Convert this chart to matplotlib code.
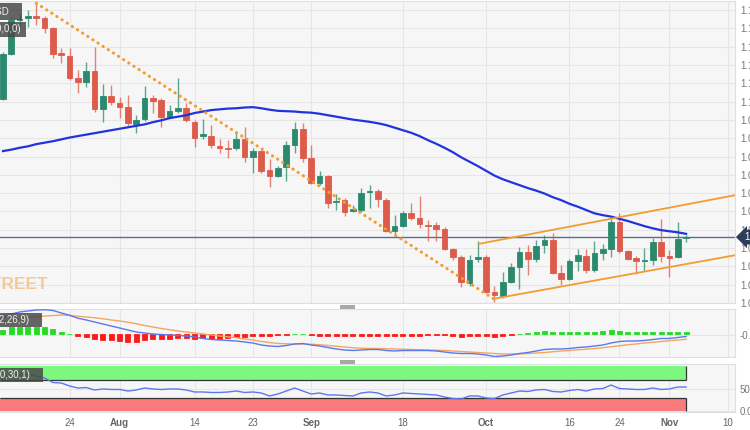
import matplotlib
matplotlib.use("Agg")
import matplotlib.pyplot as plt
import matplotlib.transforms as mtransforms
from matplotlib.patches import Rectangle

# ---- data (daily candles, 12 Jul - 3 Nov) ----
opens = [1.1007, 1.1130, 1.1223, 1.1228, 1.1234, 1.1228, 1.1201, 1.1133, 1.1124, 1.1064,
         1.1053, 1.1083, 1.0979, 1.1015, 1.0996, 1.0985, 1.0938, 1.0952, 1.1010, 1.1004,
         1.0958, 1.0974, 1.0982, 1.0944, 1.0906, 1.0906, 1.0878, 1.0873, 1.0873, 1.0897,
         1.0848, 1.0865, 1.0813, 1.0796, 1.0821, 1.0881, 1.0925, 1.0846, 1.0777, 1.0796,
         1.0725, 1.0731, 1.0701, 1.0704, 1.0753, 1.0756, 1.0731, 1.0646, 1.0660, 1.0695,
         1.0682, 1.0663, 1.0663, 1.0652, 1.0597, 1.0575, 1.0504, 1.0570, 1.0575, 1.0480,
         1.0468, 1.0507, 1.0548, 1.0589, 1.0570, 1.0608, 1.0622, 1.0531, 1.0515, 1.0564,
         1.0578, 1.0540, 1.0586, 1.0597, 1.0671, 1.0592, 1.0572, 1.0566, 1.0567, 1.0616,
         1.0578, 1.0575, 1.0627]
highs = [1.1135, 1.1231, 1.1242, 1.1250, 1.1269, 1.1234, 1.1204, 1.1146, 1.1146, 1.1086,
         1.1108, 1.1149, 1.1048, 1.1045, 1.1012, 1.1018, 1.0963, 1.1042, 1.1018, 1.1010,
         1.0990, 1.1064, 1.0996, 1.0949, 1.0952, 1.0936, 1.0897, 1.0895, 1.0917, 1.0930,
         1.0873, 1.0867, 1.0843, 1.0824, 1.0892, 1.0944, 1.0941, 1.0881, 1.0810, 1.0799,
         1.0747, 1.0736, 1.0717, 1.0764, 1.0772, 1.0761, 1.0736, 1.0690, 1.0701, 1.0723,
         1.0742, 1.0676, 1.0671, 1.0657, 1.0600, 1.0581, 1.0581, 1.0619, 1.0581, 1.0496,
         1.0534, 1.0559, 1.0602, 1.0608, 1.0622, 1.0635, 1.0641, 1.0553, 1.0570, 1.0597,
         1.0597, 1.0619, 1.0611, 1.0679, 1.0695, 1.0594, 1.0578, 1.0600, 1.0627, 1.0679,
         1.0594, 1.0671, 1.0635]
lows = [1.1004, 1.1127, 1.1204, 1.1204, 1.1209, 1.1187, 1.1119, 1.1105, 1.1059, 1.1023,
        1.1040, 1.0971, 1.0944, 1.0990, 1.0955, 1.0930, 1.0914, 1.0947, 1.0969, 1.0930,
        1.0955, 1.0969, 1.0944, 1.0875, 1.0897, 1.0873, 1.0859, 1.0846, 1.0867, 1.0835,
        1.0805, 1.0805, 1.0766, 1.0794, 1.0783, 1.0859, 1.0835, 1.0775, 1.0772, 1.0709,
        1.0704, 1.0687, 1.0698, 1.0698, 1.0709, 1.0712, 1.0643, 1.0638, 1.0657, 1.0676,
        1.0654, 1.0619, 1.0619, 1.0594, 1.0567, 1.0493, 1.0496, 1.0561, 1.0477, 1.0452,
        1.0463, 1.0504, 1.0488, 1.0526, 1.0561, 1.0586, 1.0528, 1.0499, 1.0512, 1.0537,
        1.0531, 1.0534, 1.0567, 1.0575, 1.0586, 1.0567, 1.0528, 1.0537, 1.0553, 1.0561,
        1.0520, 1.0572, 1.0616]
closes = [1.1130, 1.1223, 1.1225, 1.1234, 1.1228, 1.1201, 1.1130, 1.1127, 1.1064, 1.1053,
          1.1083, 1.0979, 1.1015, 1.0999, 1.0985, 1.0941, 1.0949, 1.1010, 1.1001, 1.0958,
          1.0974, 1.0982, 1.0949, 1.0900, 1.0911, 1.0881, 1.0873, 1.0871, 1.0897, 1.0848,
          1.0865, 1.0810, 1.0796, 1.0818, 1.0881, 1.0925, 1.0846, 1.0777, 1.0796, 1.0723,
          1.0728, 1.0698, 1.0706, 1.0750, 1.0756, 1.0734, 1.0646, 1.0660, 1.0695, 1.0682,
          1.0665, 1.0660, 1.0652, 1.0597, 1.0575, 1.0507, 1.0567, 1.0575, 1.0480, 1.0471,
          1.0507, 1.0548, 1.0589, 1.0570, 1.0605, 1.0622, 1.0531, 1.0515, 1.0564, 1.0581,
          1.0540, 1.0586, 1.0597, 1.0671, 1.0592, 1.0570, 1.0564, 1.0567, 1.0616, 1.0578,
          1.0572, 1.0624, 1.0630]

# 100-day SMA
sma = [1.0865, 1.0869, 1.0874, 1.0878, 1.0884, 1.0888, 1.0892, 1.0897, 1.0902, 1.0906,
       1.0910, 1.0914, 1.0918, 1.0922, 1.0926, 1.0930, 1.0934, 1.0938, 1.0944, 1.0949,
       1.0955, 1.0959, 1.0963, 1.0969, 1.0973, 1.0977, 1.0979, 1.0981, 1.0982, 1.0984,
       1.0985, 1.0982, 1.0978, 1.0975, 1.0974, 1.0973, 1.0971, 1.0970, 1.0967, 1.0963,
       1.0959, 1.0955, 1.0951, 1.0948, 1.0945, 1.0941, 1.0936, 1.0929, 1.0922, 1.0915,
       1.0906, 1.0895, 1.0885, 1.0874, 1.0862, 1.0848, 1.0836, 1.0824, 1.0811, 1.0798,
       1.0788, 1.0780, 1.0772, 1.0764, 1.0757, 1.0749, 1.0739, 1.0731, 1.0721, 1.0713,
       1.0704, 1.0695, 1.0690, 1.0686, 1.0680, 1.0674, 1.0667, 1.0660, 1.0654, 1.0649,
       1.0646, 1.0643, 1.0639]

# MACD (12,26,9)
macd = [0.0064, 0.0080, 0.0088, 0.0092, 0.0096, 0.0097, 0.0094, 0.0084, 0.0075, 0.0063,
        0.0056, 0.0048, 0.0040, 0.0032, 0.0024, 0.0016, 0.0008, 0.0004, 0.0000, -0.0002,
        -0.0004, -0.0006, -0.0008, -0.0012, -0.0018, -0.0022, -0.0024, -0.0026, -0.0028, -0.0032,
        -0.0036, -0.0044, -0.0048, -0.0050, -0.0046, -0.0040, -0.0038, -0.0044, -0.0048, -0.0054,
        -0.0060, -0.0064, -0.0066, -0.0064, -0.0062, -0.0062, -0.0066, -0.0068, -0.0066, -0.0066,
        -0.0066, -0.0066, -0.0068, -0.0072, -0.0076, -0.0078, -0.0078, -0.0080, -0.0084, -0.0090,
        -0.0088, -0.0084, -0.0078, -0.0074, -0.0068, -0.0062, -0.0060, -0.0060, -0.0058, -0.0054,
        -0.0052, -0.0048, -0.0044, -0.0036, -0.0030, -0.0028, -0.0028, -0.0026, -0.0022, -0.0018,
        -0.0018, -0.0014, -0.0010]
signal = [0.0050, 0.0055, 0.0060, 0.0065, 0.0069, 0.0072, 0.0074, 0.0076, 0.0074, 0.0071,
          0.0068, 0.0065, 0.0061, 0.0056, 0.0052, 0.0047, 0.0041, 0.0034, 0.0028, 0.0022,
          0.0017, 0.0012, 0.0008, 0.0004, 0.0000, -0.0004, -0.0008, -0.0011, -0.0015, -0.0020,
          -0.0024, -0.0030, -0.0034, -0.0038, -0.0039, -0.0040, -0.0040, -0.0041, -0.0043, -0.0046,
          -0.0049, -0.0052, -0.0055, -0.0057, -0.0058, -0.0058, -0.0059, -0.0060, -0.0061, -0.0062,
          -0.0063, -0.0064, -0.0065, -0.0066, -0.0068, -0.0070, -0.0072, -0.0074, -0.0076, -0.0078,
          -0.0080, -0.0080, -0.0080, -0.0078, -0.0076, -0.0074, -0.0071, -0.0068, -0.0066, -0.0063,
          -0.0061, -0.0058, -0.0055, -0.0051, -0.0047, -0.0043, -0.0040, -0.0036, -0.0033, -0.0030,
          -0.0027, -0.0024, -0.0021]
hist = [0.0015, 0.0027, 0.0027, 0.0027, 0.0027, 0.0027, 0.0020, 0.0008, 0.0001, -0.0007,
        -0.0010, -0.0020, -0.0023, -0.0025, -0.0029, -0.0032, -0.0032, -0.0023, -0.0020, -0.0020,
        -0.0019, -0.0016, -0.0016, -0.0019, -0.0016, -0.0019, -0.0019, -0.0016, -0.0013, -0.0012,
        -0.0009, -0.0009, -0.0007, -0.0005, -0.0003, 0.0001, 0.0001, -0.0003, -0.0006, -0.0006,
        -0.0008, -0.0008, -0.0008, -0.0007, -0.0007, -0.0007, -0.0007, -0.0007, -0.0007, -0.0006,
        -0.0006, -0.0004, -0.0004, -0.0004, -0.0007, -0.0011, -0.0009, -0.0009, -0.0009, -0.0011,
        -0.0009, -0.0005, 0.0002, 0.0004, 0.0007, 0.0012, 0.0008, 0.0008, 0.0008, 0.0008,
        0.0008, 0.0009, 0.0011, 0.0015, 0.0012, 0.0009, 0.0008, 0.0008, 0.0008, 0.0008,
        0.0008, 0.0008, 0.0008]

# RSI (14)
rsi = [72.0, 80.0, 80.5, 81.0, 78.0, 73.6, 63.7, 62.6, 56.0, 51.6,
       52.7, 47.3, 49.5, 48.4, 48.4, 45.0, 47.3, 51.6, 49.5, 48.4,
       49.5, 49.5, 47.3, 42.9, 42.9, 41.8, 41.8, 42.9, 45.0, 41.8,
       42.9, 40.7, 34.1, 38.5, 45.0, 51.6, 45.0, 38.5, 40.7, 36.3,
       36.3, 35.2, 34.1, 40.7, 42.9, 40.7, 34.1, 36.3, 40.7, 39.6,
       38.5, 37.4, 36.3, 31.9, 28.6, 27.5, 34.1, 34.1, 29.7, 28.6,
       36.3, 40.7, 45.0, 44.0, 47.3, 48.4, 44.0, 42.9, 46.2, 48.4,
       45.0, 49.5, 50.5, 58.2, 50.5, 49.5, 48.4, 48.4, 51.6, 48.4,
       49.5, 53.8, 53.8]

# trend lines drawn on the chart: (day index, price)
down_trend = [(4, 1.1269), (59, 1.0460)]
chan_upper = [(57, 1.0611), (88, 1.0745)]
chan_lower = [(59, 1.0462), (88, 1.0581)]

# x axis labels (trading-day index -> label)
tick_idx = [8, 14, 23, 30, 37, 48, 58, 68, 74, 80, 87]
tick_lbl = ["24", "Aug", "14", "23", "Sep", "18", "Oct", "16", "24", "Nov", "10"]
months = {"Aug", "Sep", "Oct", "Nov"}

price_ticks = [1.045 + 0.005 * k for k in range(17)]

GREEN = "#2b8a6e"
RED = "#dd5b4a"
ORANGE = "#f39c32"
BG = "#f6f6f6"
GRID = "#e6e6e6"

plt.rcParams["font.family"] = ["Liberation Sans", "DejaVu Sans"]

W, H = 750, 430
fig = plt.figure(figsize=(W / 100, H / 100), dpi=100)


def px_axes(top, bottom):
    return fig.add_axes([0, 1 - bottom / H, 735 / W, (bottom - top) / H])


ax = px_axes(1, 303)
axm = px_axes(309, 357)
axr = px_axes(364, 412)

n = len(closes)
xs = list(range(n))
XMIN, XMAX = -0.36, 87.87

for a in (ax, axm, axr):
    a.set_facecolor(BG)
    a.set_xlim(XMIN, XMAX)
    a.set_xticks(tick_idx)
    a.grid(True, color=GRID, linewidth=0.8)
    a.set_axisbelow(True)
    a.yaxis.tick_right()
    a.tick_params(axis="both", length=0, labelsize=7, colors="#777777")
    a.tick_params(axis="x", labelbottom=False)
    a.spines["left"].set_visible(False)
    for side in ("top", "right", "bottom"):
        a.spines[side].set_color("#dcdfe8")
        a.spines[side].set_linewidth(0.8)

# ---- main price panel ----
ax.set_ylim(1.0450, 1.1275)
ax.set_yticks(price_ticks)
ax.set_yticklabels(["%.4f" % t for t in price_ticks])

cols = [GREEN if c >= o else RED for o, c in zip(opens, closes)]
ax.vlines(xs, lows, highs, colors=cols, linewidth=1.0, alpha=0.75, zorder=3)
ax.bar(xs, [c - o for o, c in zip(opens, closes)], bottom=opens, width=0.68,
       color=cols, edgecolor=cols, linewidth=0.6, zorder=4)

ax.plot(xs, sma, color="#2233dd", linewidth=1.6, zorder=5)

ax.plot([p[0] for p in down_trend], [p[1] for p in down_trend], color=ORANGE,
        linewidth=2.2, linestyle=(0, (0.1, 1.9)), dash_capstyle="round", zorder=6)
for ln in (chan_upper, chan_lower):
    ax.plot([p[0] for p in ln], [p[1] for p in ln], color=ORANGE, linewidth=1.3,
            zorder=6, solid_capstyle="butt")

last = closes[-1]
ax.axhline(last, color="#5b6f8f", linewidth=1.0, zorder=2)
trans = mtransforms.blended_transform_factory(ax.transAxes, ax.transData)
ax.text(1.0 + 9 / 735, last, "%.4f" % last, transform=trans, ha="left", va="center",
        fontsize=7, color="white", clip_on=False, zorder=10,
        bbox=dict(boxstyle="larrow,pad=0.25", facecolor="#2d3d5a", edgecolor="none"))

# ---- MACD panel ----
axm.set_ylim(-0.0092, 0.0100)
axm.set_yticks([-0.0005])
axm.set_yticklabels(["-0.0005"])
hcols = ["#22dd22" if h >= 0 else "#ff1a1a" for h in hist]
axm.bar(xs, hist, width=0.6, color=hcols, edgecolor=hcols, linewidth=0.6, zorder=3)
axm.plot(xs, signal, color="#f5a560", linewidth=1.0, zorder=4)
axm.plot(xs, macd, color="#5b78f0", linewidth=1.0, zorder=5)

# ---- RSI panel ----
axr.set_ylim(-1.1, 104.4)
axr.set_yticks([0, 50])
axr.set_yticklabels(["0.00", "50.00"])
axr.fill_between([XMIN, n - 1], 70, 100, color="#7ef77e", linewidth=0, zorder=2)
axr.fill_between([XMIN, n - 1], 0, 30, color="#f97b7b", linewidth=0, zorder=2)
axr.hlines([70, 30], XMIN, n - 1, colors="#333333", linewidth=0.9, zorder=3)
axr.vlines([n - 1, n - 1], [70, 0], [100, 30], colors="#333333", linewidth=0.9, zorder=3)
axr.plot(xs, rsi, color="#5b78f0", linewidth=1.0, zorder=4)

axr.tick_params(axis="x", labelbottom=True, pad=4)
axr.set_xticklabels(tick_lbl)
for t in axr.get_xticklabels():
    t.set_color("#666666")
    if t.get_text() in months:
        t.set_fontweight("bold")


# ---- overlays: cropped label boxes, watermark, pane handles ----
pix = mtransforms.Affine2D().scale(1 / W, 1 / H) + fig.transFigure


def fig_box(x0, y0, x1, y1, fc, alpha=1.0):
    fig.patches.append(Rectangle((x0, H - y1), x1 - x0, y1 - y0, transform=pix,
                                 facecolor=fc, edgecolor="none", alpha=alpha, zorder=20))


def fig_label(x_end, yc, s):
    fig.text(x_end / W, 1 - yc / H, s, ha="right", va="center", fontsize=7,
             color="#f0f0f0", zorder=21)


fig_box(0, 3, 22, 20, "#4a4a4a", 0.85)
fig_label(8.5, 12, "EUR/USD")
fig_box(0, 22, 26, 37, "#4a4a4a", 0.85)
fig_label(21, 29.5, "SMA(100,0,0)")
fig_box(0, 313, 42, 327, "#4a4a4a", 0.85)
fig_label(29, 320, "MACD (12,26,9)")
fig_box(0, 368, 43, 382, "#4a4a4a", 0.85)
fig_label(30, 375, "RSI (14,70,30,1)")

# watermark, cropped at the left edge like the source
fig.text(49 / W, 1 - 289 / H, "FXSTREET", ha="right", va="baseline", fontsize=12.5,
         fontweight="bold", color="#f3c68c", alpha=0.9, zorder=1)

for yh in (305, 360):
    fig_box(340, yh, 355, yh + 4, "#a8a8a8")
    fig_box(341, yh + 1.6, 354, yh + 2.4, "#eeeeee")

fig.savefig("out.png", dpi=100, facecolor="white")
